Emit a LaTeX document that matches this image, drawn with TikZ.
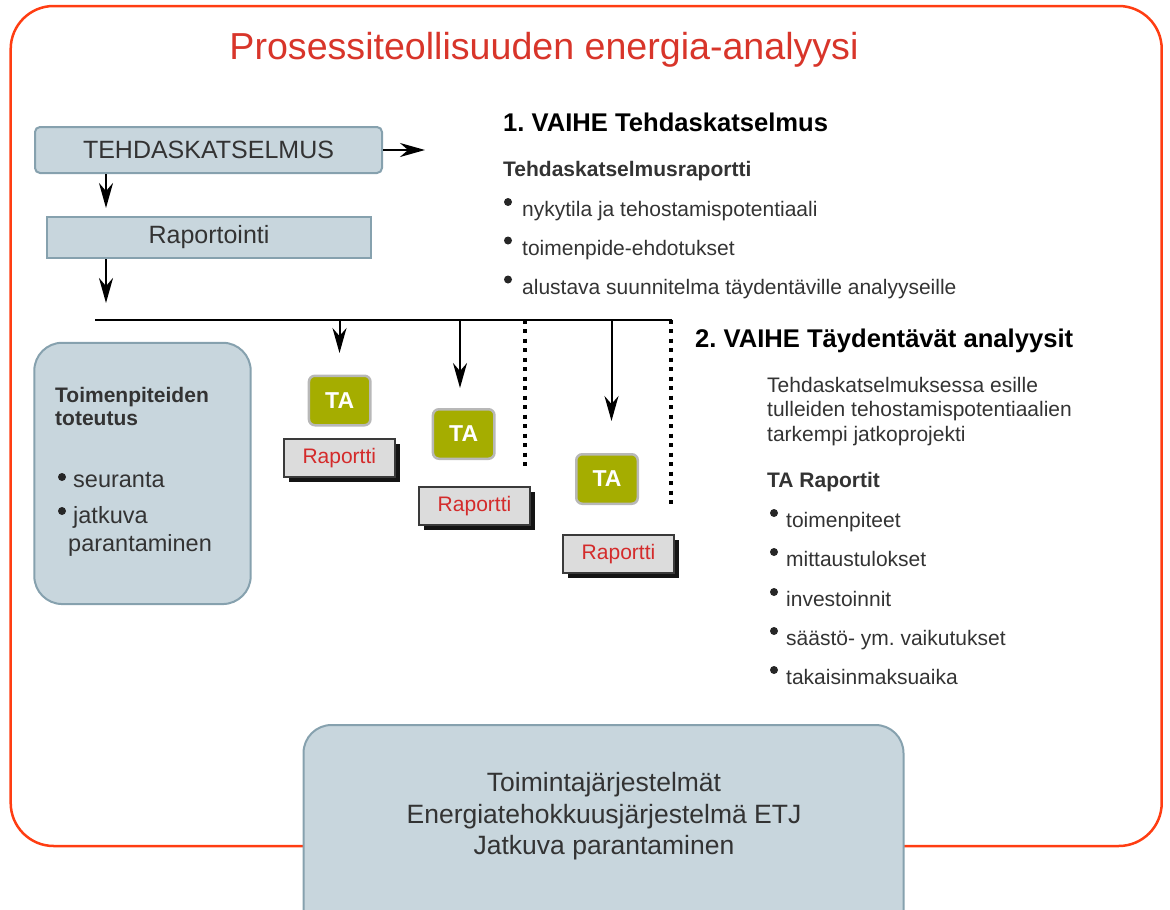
\documentclass[tikz,border=0pt]{standalone}
\usepackage{fontspec}
\setmainfont{Liberation Sans}
\usetikzlibrary{arrows.meta,shadows}
\frenchspacing

\definecolor{framered}{HTML}{FF3D12}
\definecolor{titlered}{HTML}{D8352A}
\definecolor{boxfill}{HTML}{C8D6DD}
\definecolor{boxline}{HTML}{86A1AE}
\definecolor{olive}{HTML}{A5AD00}
\definecolor{tagray}{HTML}{B8B8B8}
\definecolor{repfill}{HTML}{DCDCDC}
\definecolor{repline}{HTML}{3A3A3A}
\definecolor{reptext}{HTML}{D42B2B}
\definecolor{ink}{HTML}{333333}

\newcommand\fs[1]{\fontsize{#1}{#1}\selectfont}

\begin{document}
\begin{tikzpicture}[x=1pt,y=-1pt,
  arr/.style={line width=2pt,-{Stealth[length=25pt,width=14pt,inset=8pt]}},
  bus/.style={line width=2pt},
  dots/.style={line width=4pt,dash pattern=on 4pt off 5.5pt},
  graybox/.style={fill=boxfill,draw=boxline,line width=2pt,text=ink,inner sep=0pt},
  tabox/.style={fill=olive,draw=tagray,line width=2.5pt,rounded corners=6pt,
    minimum width=61.5pt,minimum height=49.5pt,text=white,font=\bfseries\fs{23},inner sep=0pt},
  repbox/.style={fill=repfill,draw=repline,line width=2pt,minimum width=111pt,
    minimum height=38pt,text=reptext,font=\fs{21},inner sep=0pt,
    drop shadow={fill=black!92,opacity=1,shadow xshift=5pt,shadow yshift=-5pt}},
  txt/.style={anchor=base west,inner sep=0pt,text=ink,font=\fs{21}},
  head/.style={anchor=base west,inner sep=0pt,text=black,font=\bfseries\fs{25.6}},
  sub/.style={anchor=base west,inner sep=0pt,text=ink,font=\bfseries\fs{21}},
  dot/.style={fill=black!85}]

\useasboundingbox (0,0) rectangle (1170,910);
\clip (0,0) rectangle (1170,910);

% outer frame and title
\draw[framered,line width=2.5pt,rounded corners=43pt] (10.7,6) rectangle (1161.7,846);
\node[anchor=base,inner sep=0pt,text=titlered,font=\fs{37.6}] (title) at (544,59)
  {Prosessiteollisuuden energia-analyysi};

% first stage boxes
\node[graybox,rounded corners=5pt,minimum width=347pt,minimum height=46pt,font=\fs{25}]
  (survey) at (208.5,150) {TEHDASKATSELMUS};
\node[graybox,minimum width=324pt,minimum height=41pt,font=\fs{25}]
  (reporting) at (209,237.5) {Raportointi};

\coordinate (r1) at (425,150);
\coordinate (d1) at (106,208);
\coordinate (d2) at (106,303);
\draw[arr] (survey.east |- r1) -- (r1);
\draw[arr] (survey.south -| d1) -- (d1);
\draw[arr] (reporting.south -| d2) -- (d2);

% distribution line
\coordinate (busL) at (95,319.5);
\coordinate (busR) at (672,319.5);
\draw[bus] (busL) -- (busR);

\coordinate (t1) at (339.5,353);
\coordinate (t2) at (460,388);
\coordinate (t3) at (611.5,421);
\draw[arr] (t1 |- busL) -- (t1);
\draw[arr] (t2 |- busL) -- (t2);
\draw[arr] (t3 |- busL) -- (t3);

\coordinate (v1) at (525,466);
\coordinate (v2) at (671,507);
\draw[dots] (v1 |- busL) -- (v1);
\draw[dots] (v2 |- busL) -- (v2);

% supplementary analyses and their reports
\node[tabox] (ta1) at (339.7,400.5) {TA};
\node[tabox] (ta2) at (463.7,434) {TA};
\node[tabox] (ta3) at (607,479) {TA};
\node[repbox] (rep1) at (339.3,457.7) {Raportti};
\node[repbox] (rep2) at (474.5,506) {Raportti};
\node[repbox] (rep3) at (618.5,554) {Raportti};

% implementation box
\node[graybox,rounded corners=28pt,minimum width=216.4pt,minimum height=261.3pt]
  (impl) at (142.5,473.4) {};
\node[sub] (implh1) at (55,402) {Toimenpiteiden};
\node[sub] (implh2) at (55,425) {toteutus};
\node[txt,font=\fs{23.5}] (impl1) at (73,487) {seuranta};
\node[txt,font=\fs{23.5}] (impl2) at (73,523) {jatkuva};
\node[txt,font=\fs{23.5}] (impl3) at (68,551) {parantaminen};
\fill[dot] (62,477) circle (4);
\fill[dot] (62,511) circle (4);

% stage 1 description
\node[head] (h1) at (503,131.7) {1. VAIHE Tehdaskatselmus};
\node[sub] (s1) at (503,176) {Tehdaskatselmusraportti};
\node[txt] (a1) at (522,216.5) {nykytila ja tehostamispotentiaali};
\node[txt] (a2) at (522,255) {toimenpide-ehdotukset};
\node[txt] (a3) at (522,294) {alustava suunnitelma täydentäville analyyseille};
\foreach \n in {a1,a2,a3} \fill[dot] ([xshift=-14pt,yshift=14.5pt]\n.base west) circle (4);

% stage 2 description
\node[head] (h2) at (695,347) {2. VAIHE Täydentävät analyysit};
\node[txt] (p1) at (767,392) {Tehdaskatselmuksessa esille};
\node[txt] (p2) at (767,416.5) {tulleiden tehostamispotentiaalien};
\node[txt] (p3) at (767,441) {tarkempi jatkoprojekti};
\node[sub] (s2) at (767,487) {TA Raportit};
\node[txt] (c1) at (786,527) {toimenpiteet};
\node[txt] (c2) at (786,566) {mittaustulokset};
\node[txt] (c3) at (786,606) {investoinnit};
\node[txt] (c4) at (786,645) {säästö- ym. vaikutukset};
\node[txt] (c5) at (786,684) {takaisinmaksuaika};
\foreach \n in {c1,c2,c3,c4,c5} \fill[dot] ([xshift=-12pt,yshift=14pt]\n.base west) circle (4);

% management systems box
\node[graybox,rounded corners=28pt,minimum width=600pt,minimum height=220pt]
  (etj) at (603.5,835) {};
\node[inner sep=0pt,align=center,text=ink,font=\fontsize{26.5}{31.5}\selectfont]
  (etjtext) at (604,816.5)
  {Toimintajärjestelmät\\Energiatehokkuusjärjestelmä ETJ\\Jatkuva parantaminen};

\end{tikzpicture}
\end{document}
